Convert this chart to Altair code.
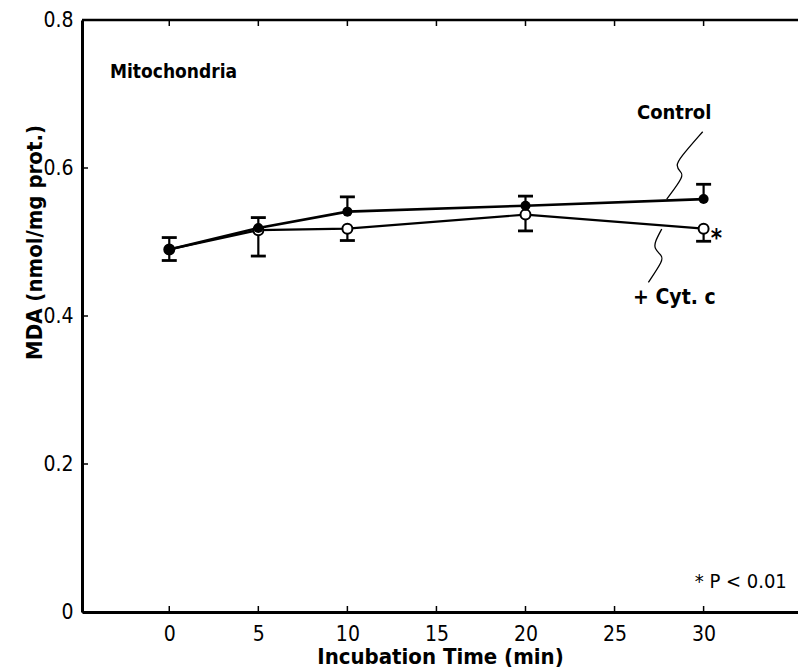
import altair as alt
import pandas as pd

# ---- data ----
times = [0, 5, 10, 20, 30]
control = [0.490, 0.519, 0.541, 0.549, 0.558]
control_err = [0.016, 0.014, 0.020, 0.013, 0.020]
cyt = [0.490, 0.516, 0.518, 0.537, 0.518]
cyt_err = [0.015, 0.035, 0.016, 0.022, 0.017]

x_ticks = [0, 5, 10, 15, 20, 25, 30]
y_ticks = [0, 0.2, 0.4, 0.6, 0.8]

# leader (callout) curves, in data units
ctrl_lead_x = [29.95, 28.64, 28.45, 28.68, 28.93, 27.93]
ctrl_lead_y = [0.649, 0.613, 0.603, 0.595, 0.590, 0.558]
cyt_lead_x = [27.65, 27.27, 27.22, 27.65, 27.74, 26.90]
cyt_lead_y = [0.5176, 0.5004, 0.4915, 0.4815, 0.4757, 0.4455]

labels_text = ["Mitochondria", "Control", "+ Cyt. c", "*", "* P < 0.01"]
labels_x = [-3.33, 26.26, 26.04, 30.40, 29.50]
labels_y = [0.730, 0.674, 0.424, 0.504, 0.040]
labels_bold = [True, True, True, True, False]
labels_size = [19, 20, 21, 24, 20]

W, H = 716, 592
FONT = "DejaVu Sans Condensed, Liberation Sans Narrow, sans-serif"

xs = alt.Scale(domain=[-4.9, 35.3], nice=False, zero=False)
ys = alt.Scale(domain=[0, 0.8], nice=False)

ctrl_df = pd.DataFrame({"t": times, "v": control, "e": [v + e for v, e in zip(control, control_err)]})
cyt_df = pd.DataFrame({"t": times, "v": cyt, "e": [v - e for v, e in zip(cyt, cyt_err)]})

base_x = alt.X("t:Q", scale=xs, axis=alt.Axis(
    values=x_ticks, ticks=False, grid=False, domainColor="black", domainWidth=3,
    labelFont=FONT, labelFontSize=21, labelColor="black", labelPadding=11,
    title="Incubation Time (min)", titleFont=FONT, titleFontSize=22, titleFontWeight="bold",
    titleColor="black", titlePadding=2))
base_y = alt.Y("v:Q", scale=ys, axis=alt.Axis(
    values=y_ticks, ticks=False, grid=False, domainColor="black", domainWidth=3,
    labelFont=FONT, labelFontSize=21, labelColor="black", labelPadding=9,
    labelExpr="datum.value == 0 ? '0' : format(datum.value, '.1f')",
    title="MDA (nmol/mg prot.)", titleFont=FONT, titleFontSize=22, titleFontWeight="bold",
    titleColor="black", titleAngle=-90, titleX=-48, titleY=222,
    titleAlign="center", titleBaseline="middle"))

cyt_line = alt.Chart(cyt_df).mark_line(color="black", strokeWidth=2.2).encode(x=base_x, y=base_y)
ctrl_line = alt.Chart(ctrl_df).mark_line(color="black", strokeWidth=2.6).encode(
    x=alt.X("t:Q", scale=xs), y=alt.Y("v:Q", scale=ys))

def errbars(df):
    r = alt.Chart(df).mark_rule(color="black", strokeWidth=2.2).encode(
        x=alt.X("t:Q", scale=xs), y=alt.Y("v:Q", scale=ys), y2="e:Q")
    c = alt.Chart(df).mark_tick(color="black", orient="horizontal", size=15, thickness=2.8,
                                opacity=1).encode(
        x=alt.X("t:Q", scale=xs), y=alt.Y("e:Q", scale=ys))
    return r + c

cyt_pts = alt.Chart(cyt_df).mark_point(shape="circle", filled=True, fill="white", stroke="black",
                                        strokeWidth=2, size=100, opacity=1).encode(
    x=alt.X("t:Q", scale=xs), y=alt.Y("v:Q", scale=ys))
ctrl_pts = alt.Chart(ctrl_df).mark_point(shape="circle", filled=True, color="black", size=100,
                                         opacity=1).encode(
    x=alt.X("t:Q", scale=xs), y=alt.Y("v:Q", scale=ys))

lead_df = pd.concat([
    pd.DataFrame({"x": ctrl_lead_x, "y": ctrl_lead_y, "g": "c", "o": range(len(ctrl_lead_x))}),
    pd.DataFrame({"x": cyt_lead_x, "y": cyt_lead_y, "g": "y", "o": range(len(cyt_lead_x))}),
])
leads = alt.Chart(lead_df).mark_line(color="black", strokeWidth=1.3, interpolate="basis").encode(
    x=alt.X("x:Q", scale=xs), y=alt.Y("y:Q", scale=ys), detail="g:N", order="o:Q")

lab_df = pd.DataFrame({"x": labels_x, "y": labels_y, "t": labels_text})
text_layers = []
for i in range(len(labels_text)):
    d = lab_df.iloc[[i]]
    text_layers.append(alt.Chart(d).mark_text(
        align="left", baseline="middle", font=FONT, fontSize=labels_size[i],
        fontWeight="bold" if labels_bold[i] else "normal", color="black").encode(
        x=alt.X("x:Q", scale=xs), y=alt.Y("y:Q", scale=ys), text="t:N"))

xt_df = pd.DataFrame({"t": x_ticks})
yt_df = pd.DataFrame({"v": y_ticks})
xt_bot = alt.Chart(xt_df).mark_rule(color="black", strokeWidth=1.5).encode(
    x=alt.X("t:Q", scale=xs), y=alt.value(H), y2=alt.value(H - 6))
xt_top = alt.Chart(xt_df).mark_rule(color="black", strokeWidth=1.5).encode(
    x=alt.X("t:Q", scale=xs), y=alt.value(0), y2=alt.value(6))
yt = alt.Chart(yt_df).mark_rule(color="black", strokeWidth=1.5).encode(
    y=alt.Y("v:Q", scale=ys), x=alt.value(0), x2=alt.value(6))
top_border = alt.Chart(xt_df.head(1)).mark_rule(color="black", strokeWidth=2.6).encode(
    x=alt.value(0), x2=alt.value(W), y=alt.value(0))

chart = alt.layer(
    cyt_line, ctrl_line, errbars(cyt_df), errbars(ctrl_df), cyt_pts, ctrl_pts, leads,
    *text_layers, xt_bot, xt_top, yt, top_border
).properties(
    width=W, height=H,
    autosize=alt.AutoSizeParams(type="none"),
    padding={"left": 82, "top": 20, "right": 0, "bottom": 56},
    background="white",
).configure_view(stroke=None)

chart.save("out.html", embed_options={"renderer": "svg", "actions": False})
